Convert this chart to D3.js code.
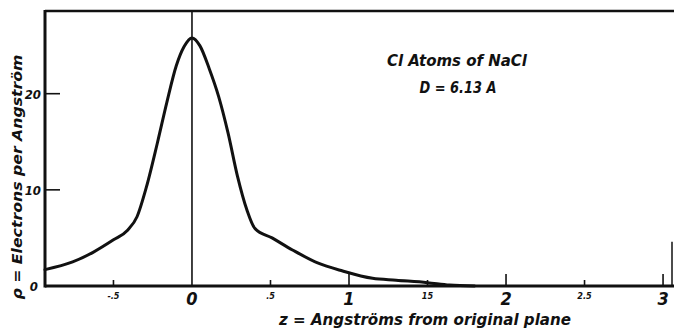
<!DOCTYPE html>
<html>
<head>
<meta charset="utf-8">
<script src="https://cdn.jsdelivr.net/npm/d3@7/dist/d3.min.js"></script>
<style>
  html, body { margin: 0; padding: 0; background: #fff; }
  svg { display: block; }
  text { font-family: "DejaVu Sans Condensed", "DejaVu Sans", sans-serif; font-weight: bold; font-style: italic; fill: #111; }
</style>
</head>
<body>
<svg id="chart" width="674" height="329"></svg>
<script>
// Electron density of Cl atoms in NaCl, projected on z
const zValues = [-0.936, -0.76, -0.63, -0.5, -0.41, -0.35, -0.29, -0.22, -0.16, -0.1, -0.05, 0,
                 0.05, 0.11, 0.17, 0.23, 0.29, 0.35, 0.4, 0.51, 0.64, 0.8, 0.96, 1.15, 1.3, 1.5, 1.64, 1.8];
const rhoValues = [1.7, 2.5, 3.5, 4.8, 5.8, 7.2, 10.3, 14.9, 19.1, 22.9, 24.9, 25.8,
                   25.0, 22.6, 19.7, 15.9, 11.4, 7.9, 6.0, 5.0, 3.75, 2.4, 1.56, 0.8, 0.6, 0.35, 0.1, 0];

const xMajorTicks = [1, 2, 3];
const xMajorLabels = ["0", "1", "2", "3"];
const xMajorLabelValues = [0, 1, 2, 3];
const xMinorTicks = [-0.5, 0.5, 1.5, 2.5];
const xMinorLabels = ["-.5", ".5", "15", "2.5"];
const yTicks = [10, 20];
const yTickLabels = ["10", "20"];

const svg = d3.select("#chart");
const ink = "#111";

const x = d3.scaleLinear().domain([-0.936, 3.057]).range([45, 672]);
const y = d3.scaleLinear().domain([0, 28.6]).range([286, 11]);

// frame: left and top lines, bottom axis, short right edge
svg.append("line").attr("x1", x(-0.936)).attr("x2", 674).attr("y1", y(28.6)).attr("y2", y(28.6))
  .attr("stroke", ink).attr("stroke-width", 2.5);
svg.append("line").attr("x1", x(-0.936)).attr("x2", x(-0.936)).attr("y1", y(28.6) - 1).attr("y2", y(0) + 1.5)
  .attr("stroke", ink).attr("stroke-width", 3);
svg.append("line").attr("x1", x(-0.936)).attr("x2", 674).attr("y1", y(0)).attr("y2", y(0))
  .attr("stroke", ink).attr("stroke-width", 3);
svg.append("line").attr("x1", x(3.057)).attr("x2", x(3.057)).attr("y1", y(4.6)).attr("y2", y(0))
  .attr("stroke", ink).attr("stroke-width", 1.5);

// original plane at z = 0
svg.append("line").attr("x1", x(0)).attr("x2", x(0)).attr("y1", y(28.6)).attr("y2", y(0))
  .attr("stroke", ink).attr("stroke-width", 1.6);

// x ticks, pointing into the plot
svg.selectAll(".xmaj").data(xMajorTicks).enter().append("line")
  .attr("x1", d => x(d)).attr("x2", d => x(d)).attr("y1", y(0)).attr("y2", y(0) - 12)
  .attr("stroke", ink).attr("stroke-width", 1.6);
svg.selectAll(".xmin").data(xMinorTicks).enter().append("line")
  .attr("x1", d => x(d)).attr("x2", d => x(d)).attr("y1", y(0)).attr("y2", y(0) - 6)
  .attr("stroke", ink).attr("stroke-width", 1.6);

// x tick labels
svg.selectAll(".xmajlab").data(xMajorLabelValues).enter().append("text")
  .attr("x", d => x(d)).attr("y", 305).attr("text-anchor", "middle")
  .style("font-size", "18px").text((d, i) => xMajorLabels[i]);
svg.selectAll(".xminlab").data(xMinorTicks).enter().append("text")
  .attr("x", d => x(d)).attr("y", 299).attr("text-anchor", "middle")
  .style("font-size", "9px").text((d, i) => xMinorLabels[i]);

// y ticks and labels
svg.selectAll(".ytick").data(yTicks).enter().append("line")
  .attr("x1", x(-0.936)).attr("x2", x(-0.936) + 15).attr("y1", d => y(d)).attr("y2", d => y(d))
  .attr("stroke", ink).attr("stroke-width", 1.6);
svg.selectAll(".ylab").data(yTicks).enter().append("text")
  .attr("x", 41).attr("y", d => y(d) + 5).attr("text-anchor", "end")
  .style("font-size", "13px").text((d, i) => yTickLabels[i]);
svg.append("text").attr("x", 38).attr("y", y(0) + 5).attr("text-anchor", "end")
  .style("font-size", "13px").text("0");

// density curve
const line = d3.line()
  .x((d, i) => x(zValues[i]))
  .y(d => y(d))
  .curve(d3.curveMonotoneX);
svg.append("path").datum(rhoValues).attr("d", line)
  .attr("fill", "none").attr("stroke", ink).attr("stroke-width", 3)
  .attr("stroke-linejoin", "round").attr("stroke-linecap", "round");

// axis titles
svg.append("text").attr("x", 425).attr("y", 325).attr("text-anchor", "middle")
  .attr("textLength", 292).attr("lengthAdjust", "spacingAndGlyphs")
  .style("font-size", "15px").text("z = Angströms from original plane");
svg.append("text").attr("transform", "translate(22,177) rotate(-90)").attr("text-anchor", "middle")
  .attr("textLength", 245).attr("lengthAdjust", "spacingAndGlyphs")
  .style("font-size", "14px").text("ρ = Electrons per Angström");

// annotation
svg.append("text").attr("x", 457).attr("y", 66).attr("text-anchor", "middle")
  .attr("textLength", 140).attr("lengthAdjust", "spacingAndGlyphs")
  .style("font-size", "15px").text("Cl Atoms of NaCl");
svg.append("text").attr("x", 458).attr("y", 93).attr("text-anchor", "middle")
  .attr("textLength", 77).attr("lengthAdjust", "spacingAndGlyphs")
  .style("font-size", "15px").text("D = 6.13 A");
</script>
</body>
</html>
